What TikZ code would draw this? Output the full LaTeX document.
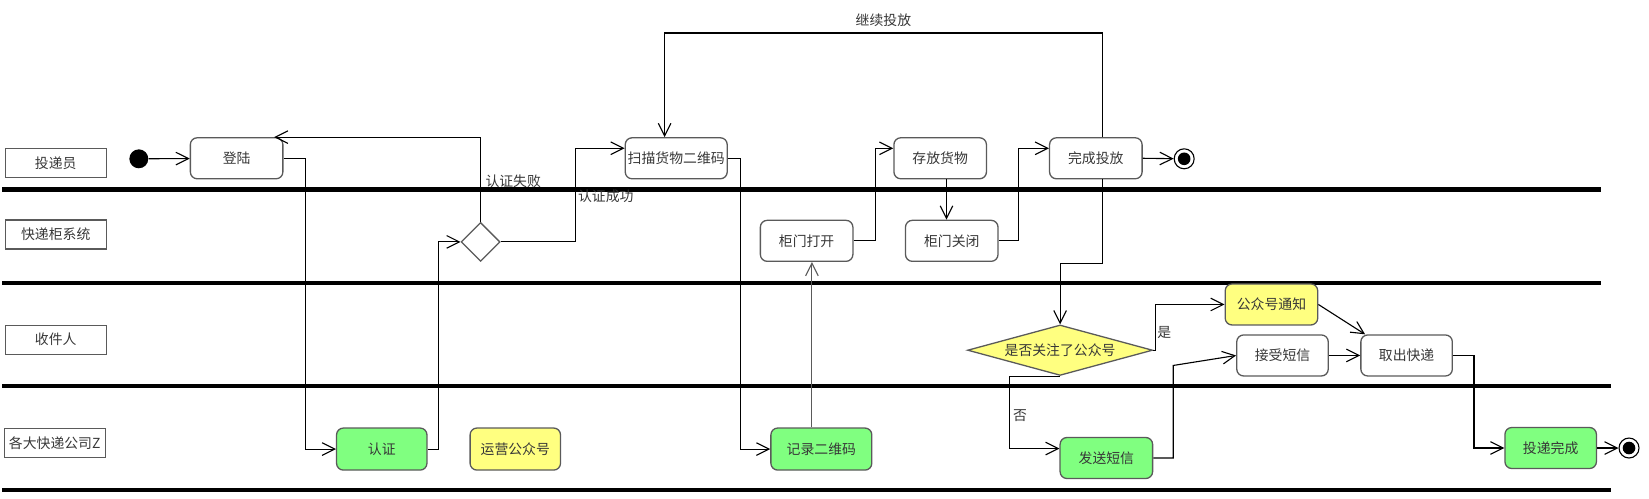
\documentclass[tikz,border=0pt]{standalone}
\usepackage{fontspec}
\setmainfont{Noto Sans CJK SC}
\usetikzlibrary{shapes.geometric, arrows.meta}

\definecolor{actgreen}{RGB}{128,255,128}
\definecolor{actyellow}{RGB}{255,255,128}
\definecolor{edgegray}{RGB}{90,90,90}
\definecolor{txtgray}{RGB}{55,55,55}

\begin{document}
\begin{tikzpicture}[x=0.02cm, y=-0.02cm,
	every node/.style={font=\fontsize{7.5}{9}\selectfont, text=txtgray},
	act/.style={draw=edgegray, line width=0.7pt, rounded corners=0.13cm, fill=white, minimum width=1.76cm, minimum height=0.78cm, inner sep=0pt},
	lanebox/.style={draw=edgegray, line width=0.7pt, minimum width=1.92cm, minimum height=0.55cm, inner sep=0pt},
	flow/.style={line width=0.6pt, -{Straight Barb[length=2.4mm,width=2.4mm]}},
	sep/.style={line width=2.4pt},
	endpt/.style={circle, draw, line width=0.6pt, fill=white, minimum size=0.38cm, inner sep=0pt, path picture={\fill[black] (path picture bounding box.center) circle (0.12cm);}}]
	\useasboundingbox (0,0) rectangle (1568,474);
	\draw[sep] (2,180) -- (1522,180);
	\draw[sep] (2,269) -- (1522,269);
	\draw[sep] (2,367) -- (1532,367);
	\draw[sep] (2,466) -- (1532,466);
	\node[lanebox] (courier) at (53,155) {投递员};
	\node[lanebox] (cabinet) at (53,223) {快递柜系统};
	\node[lanebox] (receiver) at (53,323) {收件人};
	\node[lanebox] (company) at (52,421) {各大快递公司Z};
	\node[circle, fill=black, minimum size=0.36cm, inner sep=0pt] (start) at (132,151) {};
	\node[act] (login) at (225,150.5) {登陆};
	\node[act, fill=actgreen, minimum width=1.72cm, minimum height=0.8cm] (auth) at (363,427) {认证};
	\node[act, fill=actyellow, minimum width=1.72cm, minimum height=0.8cm] (wechat) at (490,427) {运营公众号};
	\node[diamond, draw=edgegray, line width=0.7pt, minimum width=0.74cm, minimum height=0.74cm, inner sep=0pt] (check) at (457,230) {};
	\node[act, minimum width=1.94cm] (scan) at (643,150.5) {扫描货物二维码};
	\node[act, fill=actgreen, minimum width=1.92cm, minimum height=0.8cm] (record) at (781,427) {记录二维码};
	\node[act] (open) at (767,229) {柜门打开};
	\node[act] (store) at (894,150.5) {存放货物};
	\node[act] (close) at (905,229) {柜门关闭};
	\node[act] (finish) at (1042,150.5) {完成投放};
	\node[endpt] (end1) at (1126,151) {};
	\node[diamond, aspect=3.6, draw=edgegray, line width=0.7pt, fill=actyellow, minimum width=3.52cm, minimum height=0.96cm, inner sep=0pt] (follow) at (1008,333) {是否关注了公众号};
	\node[act, fill=actyellow] (notify) at (1209,289.5) {公众号通知};
	\node[act, minimum width=1.74cm] (sms) at (1219.5,338) {接受短信};
	\node[act, minimum width=1.74cm] (pickup) at (1337.5,338) {取出快递};
	\node[act, fill=actgreen] (send) at (1052,435.5) {发送短信};
	\node[act, fill=actgreen, minimum width=1.74cm] (done) at (1474.5,426) {投递完成};
	\node[endpt] (end2) at (1549,426) {};
	\draw[flow] (start) -- (login);
	\draw[flow] (login.east) -- ++(21,0) |- (auth.west);
	\draw[flow] (auth.east) -- ++(10,0) |- (check.west);
	\draw[flow] (check.north) -- (check.north |- login.north) -- ([xshift=-0.18cm]login.north east);
	\node (failtxt) at (488,172) {认证失败};
	\draw[flow] (check.east) -- ++(71,0) |- ([yshift=0.19cm]scan.west);
	\node (oktxt) at (576,187) {认证成功};
	\draw[flow] (scan.east) -- ++(12,0) |- (record.west);
	\draw[flow, draw=edgegray] ([xshift=-0.18cm]record.north) -- ([xshift=-0.18cm]record.north |- open.south);
	\draw[flow] (open.east) -- ++(21,0) |- ([yshift=0.19cm]store.west);
	\draw[flow] ([xshift=0.12cm]store.south) -- ([xshift=0.12cm]store.south |- close.north);
	\draw[flow] (close.east) -- ++(19,0) |- ([yshift=0.19cm]finish.west);
	\draw[flow] (finish.east) -- (end1);
	\draw[flow] ([xshift=0.12cm]finish.north) -- ++(0,-99) -| node[pos=0.25, above] {继续投放} ([xshift=-0.22cm]scan.north);
	\draw[flow] ([xshift=0.12cm]finish.south) -- ++(0,80) -| (follow.north);
	\draw[flow] (follow.east) -- ++(2,0) |- (notify.west);
	\node (yestxt) at (1107,316) {是};
	\draw[flow] (notify.east) -- (pickup.153);
	\draw[flow] (sms.east) -- (pickup.west);
	\draw[flow] (follow.south) -- ++(-48,0) |- ([yshift=0.18cm]send.west);
	\node (notxt) at (970,395) {否};
	\draw[flow] (send.east) -- ++(19,0) -- ++(0,-88) -- (sms.west);
	\draw[flow] (pickup.east) -- ++(20,0) |- (done.west);
	\draw[flow] (done.east) -- (end2);
\end{tikzpicture}
\end{document}
